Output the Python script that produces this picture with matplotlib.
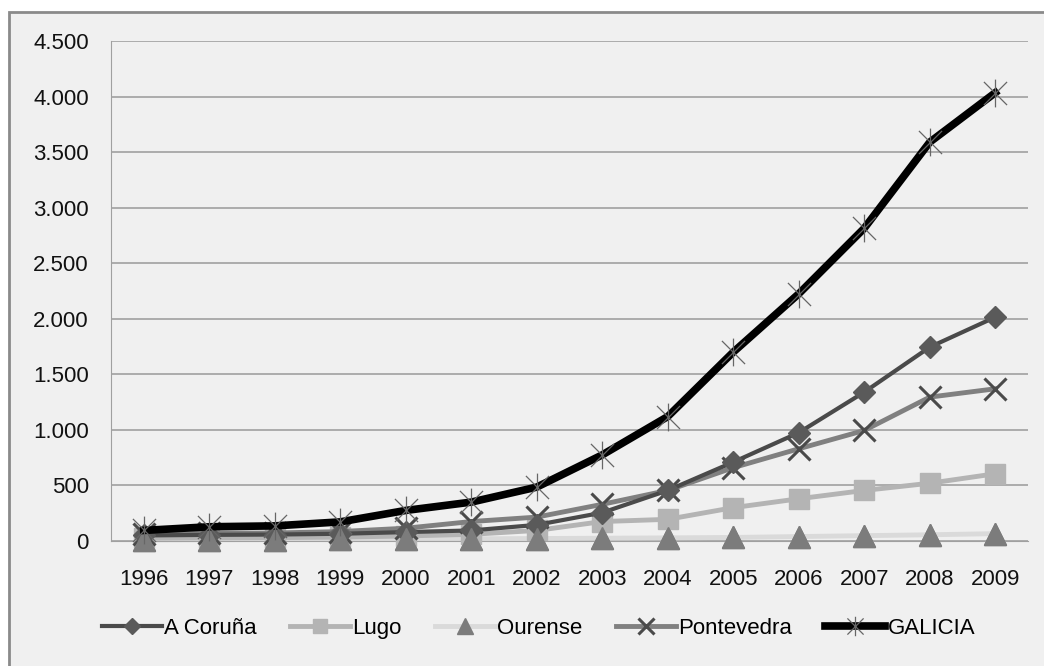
import numpy as np
import matplotlib
matplotlib.use("Agg")
import matplotlib.pyplot as plt
from matplotlib.ticker import FuncFormatter
from matplotlib.patches import Rectangle
from matplotlib.path import Path

years = ['1996', '1997', '1998', '1999', '2000', '2001', '2002',
         '2003', '2004', '2005', '2006', '2007', '2008', '2009']
coruna = [50, 55, 58, 65, 80, 95, 145, 255, 455, 710, 975, 1340, 1745, 2015]
lugo = [25, 28, 30, 35, 45, 60, 95, 175, 195, 300, 380, 455, 520, 605]
ourense = [10, 12, 13, 15, 17, 20, 22, 25, 28, 32, 40, 48, 56, 66]
pontevedra = [60, 70, 72, 85, 115, 175, 215, 330, 455, 660, 830, 995, 1295, 1370]
galicia = [95, 128, 136, 172, 275, 350, 485, 775, 1120, 1700, 2225, 2815, 3590, 4035]

bg = '#f0f0f0'
plt.rcParams['font.family'] = ['Liberation Sans', 'DejaVu Sans']

# excel style star: an X with a vertical bar
star = Path([(-1, -1), (1, 1), (-1, 1), (1, -1), (0, -1.2), (0, 1.2)],
            [Path.MOVETO, Path.LINETO, Path.MOVETO, Path.LINETO, Path.MOVETO, Path.LINETO])

fig = plt.figure(figsize=(10.44, 6.66), dpi=100, facecolor='white')
fig.patches.append(Rectangle((9 / 1044, -0.05), 1.1, 1.05 - 12 / 666, transform=fig.transFigure,
                             facecolor=bg, edgecolor='#8a8a8a', lw=2, zorder=-10))

ax = fig.add_axes([0.1063, 0.1877, 0.8784, 0.7507])
ax.set_zorder(1)
ax.set_facecolor(bg)
x = np.arange(len(years))

ax.plot(x, coruna, color='#4a4a4a', lw=3, marker='D', ms=11, mfc='#5a5a5a', mec='#5a5a5a',
        label='A Coruña', zorder=4, clip_on=False)
ax.plot(x, lugo, color='#b4b4b4', lw=3.5, marker='s', ms=15, mfc='#b4b4b4', mec='#b4b4b4',
        label='Lugo', zorder=3, clip_on=False)
ax.plot(x, ourense, color='#dadada', lw=3.5, marker='^', ms=16, mfc='#7c7c7c', mec='#7c7c7c',
        label='Ourense', zorder=2, clip_on=False)
# triangles sit on top of the other low lines
ax.plot(x, ourense, ls='none', marker='^', ms=16, mfc='#7c7c7c', mec='#7c7c7c',
        zorder=4.5, clip_on=False)
ax.plot(x, pontevedra, color='#808080', lw=3.5, marker='x', ms=16, mew=2.2, mec='#4a4a4a',
        label='Pontevedra', zorder=3, clip_on=False)
ax.plot(x, galicia, color='black', lw=5.5, marker=star, ms=20, mew=0.9, mec='#666666',
        label='GALICIA', zorder=5, clip_on=False)

ax.set_xlim(-0.5, len(years) - 0.5)
ax.set_ylim(0, 4500)
ax.set_yticks(np.arange(0, 4501, 500))
ax.yaxis.set_major_formatter(FuncFormatter(lambda v, p: f'{int(v):,}'.replace(',', '.')))
ax.set_xticks(x)
ax.set_xticklabels(years)
ax.grid(axis='y', color='#a0a0a0', lw=1.2)
ax.set_axisbelow(True)
for s in ['top', 'right']:
    ax.spines[s].set_visible(False)
ax.spines['left'].set_color('#a0a0a0')
ax.spines['bottom'].set_color('#a0a0a0')
ax.tick_params(axis='both', length=0, labelsize=16, colors='#111111')
ax.tick_params(axis='x', pad=20)
ax.tick_params(axis='y', pad=16)

leg = fig.legend(loc='center', bbox_to_anchor=(0.516, 0.057), ncol=5, frameon=False,
                 fontsize=16, handlelength=2.7, handletextpad=0.1, columnspacing=1.5,
                 markerscale=0.7)

fig.savefig('out.png', dpi=100, facecolor='white')
